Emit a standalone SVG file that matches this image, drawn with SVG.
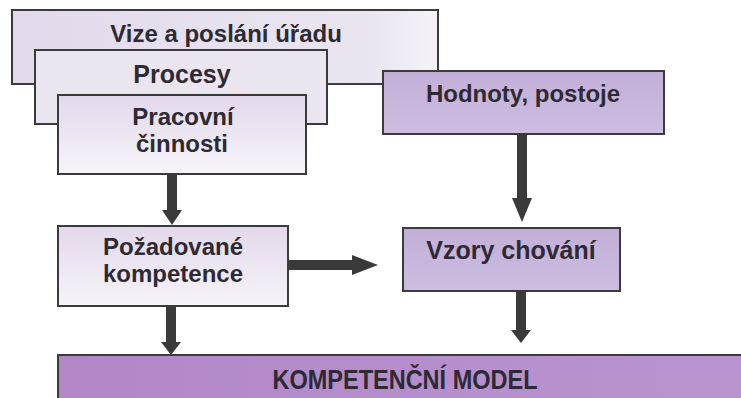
<svg xmlns="http://www.w3.org/2000/svg" width="741" height="398" viewBox="0 0 741 398">
<defs>
<linearGradient id="gLight" x1="0" y1="0" x2="0" y2="1">
<stop offset="0" stop-color="#e2d8ec"/>
<stop offset="1" stop-color="#f7f4f8"/>
</linearGradient>
<linearGradient id="gTop" x1="0" y1="0" x2="1" y2="0">
<stop offset="0" stop-color="#e2daec"/>
<stop offset="0.85" stop-color="#ebe5f0"/>
<stop offset="1" stop-color="#f5f2f7"/>
</linearGradient>
<linearGradient id="gMid" x1="0" y1="0" x2="0" y2="1">
<stop offset="0" stop-color="#c2afd8"/>
<stop offset="1" stop-color="#cdbde0"/>
</linearGradient>
<linearGradient id="gDark" x1="0" y1="0" x2="1" y2="0">
<stop offset="0" stop-color="#b287c8"/>
<stop offset="1" stop-color="#b994d0"/>
</linearGradient>
</defs>
<style>
.box{stroke:#3b3b3b;stroke-width:2}
.t{font-family:"Liberation Sans",Arial,sans-serif;font-weight:bold;font-size:24px;fill:#2e2a33;text-anchor:middle}
.arr{fill:#3a3a3a}
</style>
<rect width="741" height="398" fill="#ffffff"/>
<g id="vize">
<rect class="box" x="12" y="10" width="426" height="74" fill="url(#gTop)"/>
<text class="t" x="226" y="42">Vize a poslání úřadu</text>
</g>
<g id="procesy">
<rect class="box" x="35" y="50" width="292" height="74" fill="#ebe5f0"/>
<text class="t" x="182" y="83" style="font-size:25px">Procesy</text>
</g>
<g id="pracovni">
<rect class="box" x="58" y="95" width="248" height="79" fill="url(#gLight)"/>
<text class="t" x="183" y="125">Pracovní</text>
<text class="t" x="182" y="152">činnosti</text>
</g>
<g id="hodnoty">
<rect class="box" x="383" y="71" width="281" height="63" fill="url(#gMid)"/>
<text class="t" x="523" y="102">Hodnoty, postoje</text>
</g>
<g id="pozadovane">
<rect class="box" x="58" y="226" width="230" height="80" fill="url(#gLight)"/>
<text class="t" x="173" y="255">Požadované</text>
<text class="t" x="173" y="282">kompetence</text>
</g>
<g id="vzory">
<rect class="box" x="403" y="228" width="217" height="63" fill="url(#gMid)"/>
<text class="t" x="511" y="259" style="font-size:25px">Vzory chování</text>
</g>
<g id="model">
<rect class="box" x="58" y="355" width="690" height="50" fill="url(#gDark)"/>
<text class="t" x="405" y="389" style="font-size:27px" textLength="265" lengthAdjust="spacingAndGlyphs">KOMPETENČNÍ MODEL</text>
</g>
<g id="connectors">
<path class="arr" d="M167 175 H177 V210 H182 L172 225 L162 210 H167 Z"/>
<path class="arr" d="M289 260 V270 H352 V275 L378 265 L352 255 V260 Z"/>
<path class="arr" d="M517 135 H527 V198 H532 L522 222 L512 198 H517 Z"/>
<path class="arr" d="M166 307 H176 V342 H181 L171 355 L161 342 H166 Z"/>
<path class="arr" d="M516 292 H526 V330 H531 L521 343 L511 330 H516 Z"/>
</g>
</svg>
